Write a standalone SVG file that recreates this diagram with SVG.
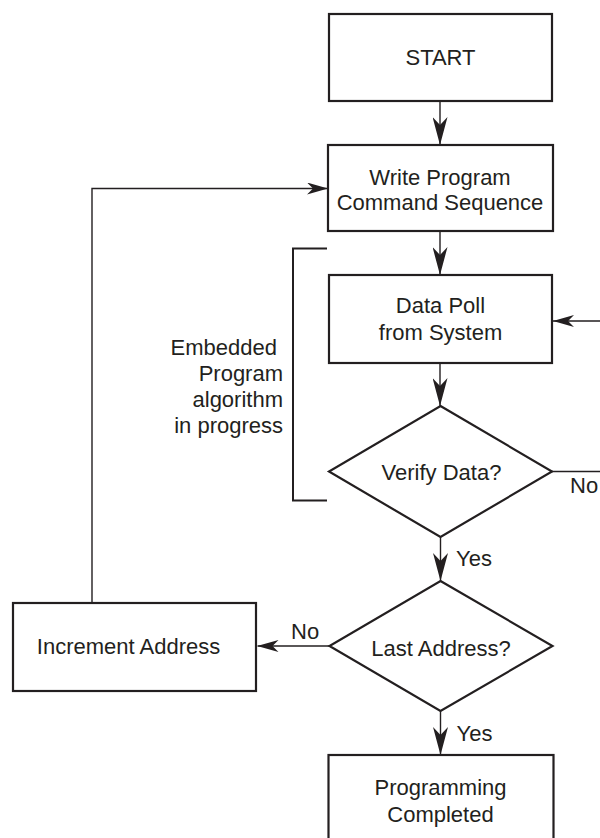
<svg xmlns="http://www.w3.org/2000/svg" width="600" height="838" viewBox="0 0 600 838">
<style>
  .box { fill: #ffffff; stroke: #231f20; stroke-width: 2.2; }
  .conn { fill: none; stroke: #231f20; stroke-width: 1.4; }
  .bracket { fill: none; stroke: #231f20; stroke-width: 2; }
  text { font-family: "Liberation Sans", Arial, Helvetica, sans-serif; font-size: 22px; fill: #231f20; }
  .c { text-anchor: middle; }
  .e { text-anchor: end; }
</style>
<defs>
  <marker id="big" viewBox="0 0 28 15" refX="28" refY="7.5" markerWidth="28" markerHeight="15" markerUnits="userSpaceOnUse" orient="auto">
    <path d="M0,0 L28,7.5 L0,15 L8,7.5 Z" fill="#231f20"/>
  </marker>
  <marker id="small" viewBox="0 0 21 12" refX="21" refY="6" markerWidth="21" markerHeight="12" markerUnits="userSpaceOnUse" orient="auto">
    <path d="M0,0 L21,6 L0,12 L6,6 Z" fill="#231f20"/>
  </marker>
</defs>
<rect width="600" height="838" fill="#ffffff"/>

<g id="connectors">
  <line class="conn" x1="440" y1="101" x2="440" y2="145" marker-end="url(#big)"/>
  <line class="conn" x1="440" y1="231" x2="440" y2="275" marker-end="url(#big)"/>
  <line class="conn" x1="440" y1="363" x2="440" y2="406" marker-end="url(#big)"/>
  <line class="conn" x1="440.5" y1="537" x2="440.5" y2="581" marker-end="url(#big)"/>
  <line class="conn" x1="440.5" y1="711" x2="440.5" y2="755" marker-end="url(#big)"/>
  <line class="conn" x1="329.5" y1="646" x2="257.5" y2="646" marker-end="url(#small)"/>
  <path class="conn" d="M92,603 V188.5 H328" marker-end="url(#small)"/>
  <path class="conn" d="M552,471.5 H603 V321 H553" marker-end="url(#small)"/>
  <text x="570" y="493">No</text>
  <text x="456" y="566">Yes</text>
  <text x="291" y="639">No</text>
  <text x="456.5" y="741">Yes</text>
</g>

<g id="bracket">
  <path class="bracket" d="M327,248.5 H293 V500.5 H327"/>
  <text class="e" x="277" y="355">Embedded</text>
  <text class="e" x="283" y="381">Program</text>
  <text class="e" x="283" y="407">algorithm</text>
  <text class="e" x="283" y="433">in progress</text>
</g>

<g id="start">
  <rect class="box" x="329" y="14" width="223" height="87"/>
  <text class="c" x="440.5" y="65">START</text>
</g>

<g id="write">
  <rect class="box" x="328" y="145" width="225" height="86"/>
  <text class="c" x="440" y="185">Write Program</text>
  <text class="c" x="440" y="210">Command Sequence</text>
</g>

<g id="datapoll">
  <rect class="box" x="329" y="275" width="223" height="88"/>
  <text class="c" x="440.5" y="313">Data Poll</text>
  <text class="c" x="440.5" y="340">from System</text>
</g>

<g id="verify">
  <polygon class="box" points="440.5,406 552,471.5 440.5,537 329,471.5"/>
  <text class="c" x="441.5" y="480">Verify Data?</text>
</g>

<g id="last">
  <polygon class="box" points="440.5,581 552.5,646 440.5,711 329.5,646"/>
  <text class="c" x="441" y="656">Last Address?</text>
</g>

<g id="increment">
  <rect class="box" x="13" y="603" width="243" height="88"/>
  <text class="c" x="128.5" y="654">Increment Address</text>
</g>

<g id="done">
  <rect class="box" x="328.5" y="755" width="225" height="100"/>
  <text class="c" x="440.5" y="795">Programming</text>
  <text class="c" x="440.5" y="822">Completed</text>
</g>
</svg>
